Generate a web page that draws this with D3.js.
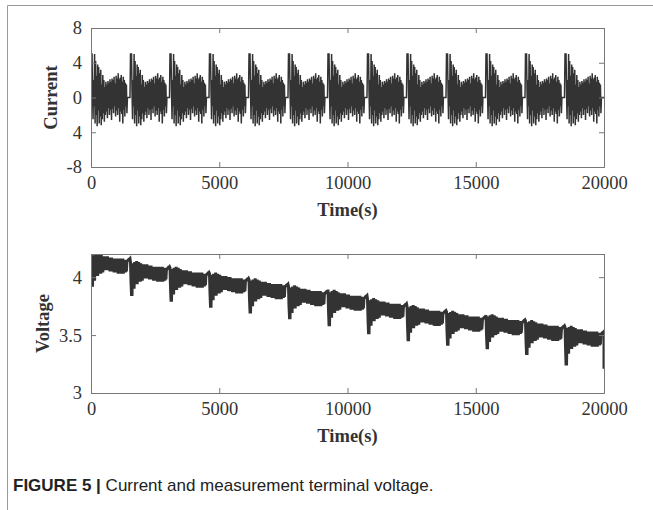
<!DOCTYPE html>
<html lang="en">
<head>
<meta charset="utf-8">
<title>Current and measurement terminal voltage</title>
<script src="https://cdnjs.cloudflare.com/ajax/libs/d3/7.8.5/d3.min.js"></script>
<style>
  body { margin: 0; background: #fff; }
  .tick text { font-family: "Liberation Serif", "Times New Roman", serif; font-size: 18.5px; fill: #333; }
  .axlabel { font-family: "Liberation Serif", "Times New Roman", serif; font-size: 18.5px; font-weight: bold; fill: #333; }
  .caption { font-family: "Liberation Sans", Arial, sans-serif; font-size: 17px; fill: #222; }
</style>
</head>
<body>
<div id="chart"></div>
<script>
// x axis
var xTicks = [0, 5000, 10000, 15000, 20000];
var tEnd = 20000;
var sampleStep = 20;     // seconds between samples inside one cycle
var cycleCount = 13;     // the load profile is repeated 13 times

// current: one cycle of the load profile (A)
var cycleCurrent = [
  5, 5, 5, 0.5, -2.5, 2, -1, 5, -3, 4.2,
  -2, 2.5, -3.3, 3.8, -1.5, 3.5, -3, 2.8, -2.2, 3.2,
  -3.2, 1.5, -2.5, 2.6, -1.8, 2, -2.8, 1.2, -2, 1.8,
  -1.6, 1.5, -2.4, 1.9, -1.2, 1.7, -2, 2.1, -1.4, 1.8,
  -2.6, 2.2, -1.3, 2, -1.8, 2.4, -1, 1.6, -2.2, 2.5,
  -1.5, 2.2, -2, 2.8, -1.2, 2.1, -2.8, 2.3, -1.6, 2.6,
  -1.9, 1.8, -3, 2.4, -1.4, 2, -2.2, 1.7, -1, 1.5,
  -1.8, 0, 0, 0, 0, 0, 0
];
var currentTicks = [-8, -4, 0, 4, 8];
var currentTickLabels = ["-8", "4", "0", "4", "8"];

// voltage: level at the start of each cycle, lowest point of each dip
var cycleTopV = [4.21, 4.14, 4.09, 4.04, 3.99, 3.93, 3.89, 3.82, 3.76, 3.71, 3.68, 3.63, 3.58];
var cycleDipV = [3.93, 3.85, 3.80, 3.75, 3.70, 3.65, 3.59, 3.52, 3.46, 3.42, 3.39, 3.34, 3.25];
// offset from the cycle start level, per sample (null = the dip)
var cycleVoltShape = [
  -0.01, -0.18, null, null, -0.02, -0.15, -0.03, -0.24, -0.01, -0.19,
  -0.02, -0.15, 0, -0.20, -0.03, -0.18, -0.01, -0.15, -0.03, -0.18,
  -0.02, -0.14, -0.03, -0.17, -0.04, -0.14, -0.03, -0.14, -0.04, -0.15,
  -0.04, -0.14, -0.03, -0.15, -0.05, -0.15, -0.04, -0.16, -0.05, -0.15,
  -0.04, -0.16, -0.06, -0.16, -0.05, -0.17, -0.06, -0.15, -0.05, -0.17,
  -0.06, -0.16, -0.05, -0.18, -0.07, -0.16, -0.05, -0.17, -0.07, -0.18,
  -0.06, -0.16, -0.05, -0.18, -0.07, -0.16, -0.06, -0.17, -0.07, -0.16,
  -0.08, -0.07, -0.065, -0.06, -0.055, -0.055, -0.05
];
var endVoltage = 3.21;
var voltageTicks = [3, 3.5, 4];

var width = 653, height = 510;

var svg = d3.select("#chart").append("svg")
  .attr("width", width)
  .attr("height", height);

// page frame (left and top rule)
svg.append("path")
  .attr("d", "M7.5,510V5.5H653")
  .attr("fill", "none")
  .attr("stroke", "#999")
  .attr("stroke-width", 1);

// build the series
var currentData = [], voltageData = [];
for (var c = 0; c < cycleCount; c++) {
  for (var i = 0; i < cycleCurrent.length; i++) {
    var t = (c * cycleCurrent.length + i) * sampleStep;
    if (t > tEnd) break;
    currentData.push([t, cycleCurrent[i]]);
    var off = cycleVoltShape[i];
    voltageData.push([t, off === null ? cycleDipV[c] : cycleTopV[c] + off]);
  }
}
voltageData.push([tEnd, endVoltage]);

var left = 91, right = 604;
var x = d3.scaleLinear().domain([0, tEnd]).range([left, right]);

function panel(id, top, bottom, yDomain, ticks, tickFmt, data, yLabel, labelX, lineW) {
  var y = d3.scaleLinear().domain(yDomain).range([bottom, top]);
  var g = svg.append("g");

  g.append("clipPath").attr("id", id)
    .append("rect")
    .attr("x", left).attr("y", top)
    .attr("width", right - left).attr("height", bottom - top);

  g.append("path")
    .datum(data)
    .attr("clip-path", "url(#" + id + ")")
    .attr("fill", "none")
    .attr("stroke", "#333")
    .attr("stroke-width", lineW)
    .attr("d", d3.line().x(function(d) { return x(d[0]); }).y(function(d) { return y(d[1]); }));

  // box axes, ticks pointing inwards
  var ax = [
    [d3.axisBottom(x).tickValues(xTicks).tickSize(-5).tickPadding(9).tickFormat(d3.format("d")), bottom, 0, true],
    [d3.axisTop(x).tickValues(xTicks).tickSize(-5), top, 0, false],
    [d3.axisLeft(y).tickValues(ticks).tickSize(-5).tickPadding(9).tickFormat(tickFmt), 0, left, true],
    [d3.axisRight(y).tickValues(ticks).tickSize(-5), 0, right, false]
  ];
  ax.forEach(function(a) {
    var ag = g.append("g")
      .attr("transform", "translate(" + a[2] + "," + a[1] + ")")
      .call(a[0]);
    ag.select(".domain").attr("stroke", "#777");
    ag.selectAll(".tick line").attr("stroke", "#777");
    if (!a[3]) ag.selectAll(".tick text").remove();
  });

  g.append("text")
    .attr("class", "axlabel")
    .attr("text-anchor", "middle")
    .attr("x", (left + right) / 2)
    .attr("y", bottom + 49)
    .text("Time(s)");

  g.append("text")
    .attr("class", "axlabel")
    .attr("text-anchor", "middle")
    .attr("transform", "translate(" + labelX + "," + (top + bottom) / 2 + ") rotate(-90)")
    .text(yLabel);
}

panel("clipI", 28, 167, [-8, 8], currentTicks,
  function(d, i) { return currentTickLabels[i]; },
  currentData, "Current", 57, 1.5);

panel("clipV", 254, 393, [3, 4.2], voltageTicks,
  function(d) { return d3.format("")(d); },
  voltageData, "Voltage", 49, 3);

var cap = svg.append("text").attr("class", "caption")
  .attr("x", 13).attr("y", 491);
cap.append("tspan").attr("font-weight", "bold").text("FIGURE 5 | ");
cap.append("tspan").text("Current and measurement terminal voltage.");
</script>
</body>
</html>
